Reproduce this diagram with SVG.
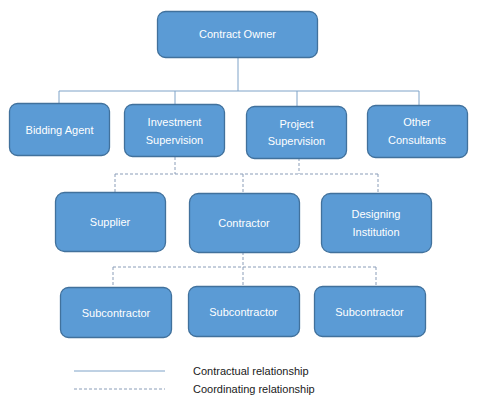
<svg xmlns="http://www.w3.org/2000/svg" width="478" height="400" viewBox="0 0 478 400">
<style>
.box{fill:#5b9bd5;stroke:#41719c;stroke-width:1.3}
.t{font-family:"Liberation Sans",Arial,sans-serif;font-size:11px;fill:#fff;text-anchor:middle;dominant-baseline:central}
.lt{font-family:"Liberation Sans",Arial,sans-serif;font-size:11px;fill:#1a1a1a}
.solid{stroke:#7fa3c8;stroke-width:1;fill:none}
.dash{stroke:#8a9db8;stroke-width:1;fill:none;stroke-dasharray:3 2}
</style>
<rect width="478" height="400" fill="#fff"/>
<g id="connectors">
<path class="solid" d="M238 57V91M59 91H419M59 91V103M175 91V104M297 91V106M419 91V105"/>
<path class="dash" d="M175 157V174M299 158V174M115 174H378M115 174V192M243 174V193M378 174V193"/>
<path class="dash" d="M243 252V267M113 267H376M113 267V287M243 267V286M376 267V286"/>
</g>
<g id="contract-owner"><rect class="box" x="157.5" y="11.5" width="160" height="46" rx="8"/><text class="t" x="237.5" y="34">Contract Owner</text></g>
<g id="bidding-agent"><rect class="box" x="9.5" y="103.5" width="100" height="52" rx="8"/><text class="t" x="59.5" y="129.5">Bidding Agent</text></g>
<g id="investment-supervision"><rect class="box" x="124.5" y="104.5" width="100" height="52" rx="8"/><text class="t" x="174.5" y="122">Investment</text><text class="t" x="174.5" y="139.5">Supervision</text></g>
<g id="project-supervision"><rect class="box" x="246.5" y="106.5" width="100" height="52" rx="8"/><text class="t" x="296.5" y="123.5">Project</text><text class="t" x="296.5" y="141">Supervision</text></g>
<g id="other-consultants"><rect class="box" x="367.5" y="105.5" width="100" height="52" rx="8"/><text class="t" x="417" y="121.5">Other</text><text class="t" x="417" y="139.5">Consultants</text></g>
<g id="supplier"><rect class="box" x="55.5" y="192.5" width="110" height="59" rx="9"/><text class="t" x="110" y="222">Supplier</text></g>
<g id="contractor"><rect class="box" x="189.5" y="193.5" width="110" height="59" rx="9"/><text class="t" x="244" y="223">Contractor</text></g>
<g id="designing-institution"><rect class="box" x="321.5" y="193.5" width="110" height="59" rx="9"/><text class="t" x="376" y="213.5">Designing</text><text class="t" x="376" y="231.5">Institution</text></g>
<g id="subcontractor-1"><rect class="box" x="60.5" y="287.5" width="111" height="50" rx="8"/><text class="t" x="116" y="312.5">Subcontractor</text></g>
<g id="subcontractor-2"><rect class="box" x="188.5" y="286.5" width="111" height="50" rx="8"/><text class="t" x="243.5" y="312">Subcontractor</text></g>
<g id="subcontractor-3"><rect class="box" x="314.5" y="286.5" width="111" height="50" rx="8"/><text class="t" x="369.5" y="312">Subcontractor</text></g>
<g id="legend">
<line class="solid" x1="74" y1="371" x2="165" y2="371"/>
<line class="dash" x1="74" y1="389" x2="165" y2="389"/>
<text class="lt" x="193" y="375">Contractual relationship</text>
<text class="lt" x="193" y="393">Coordinating relationship</text>
</g>
</svg>
